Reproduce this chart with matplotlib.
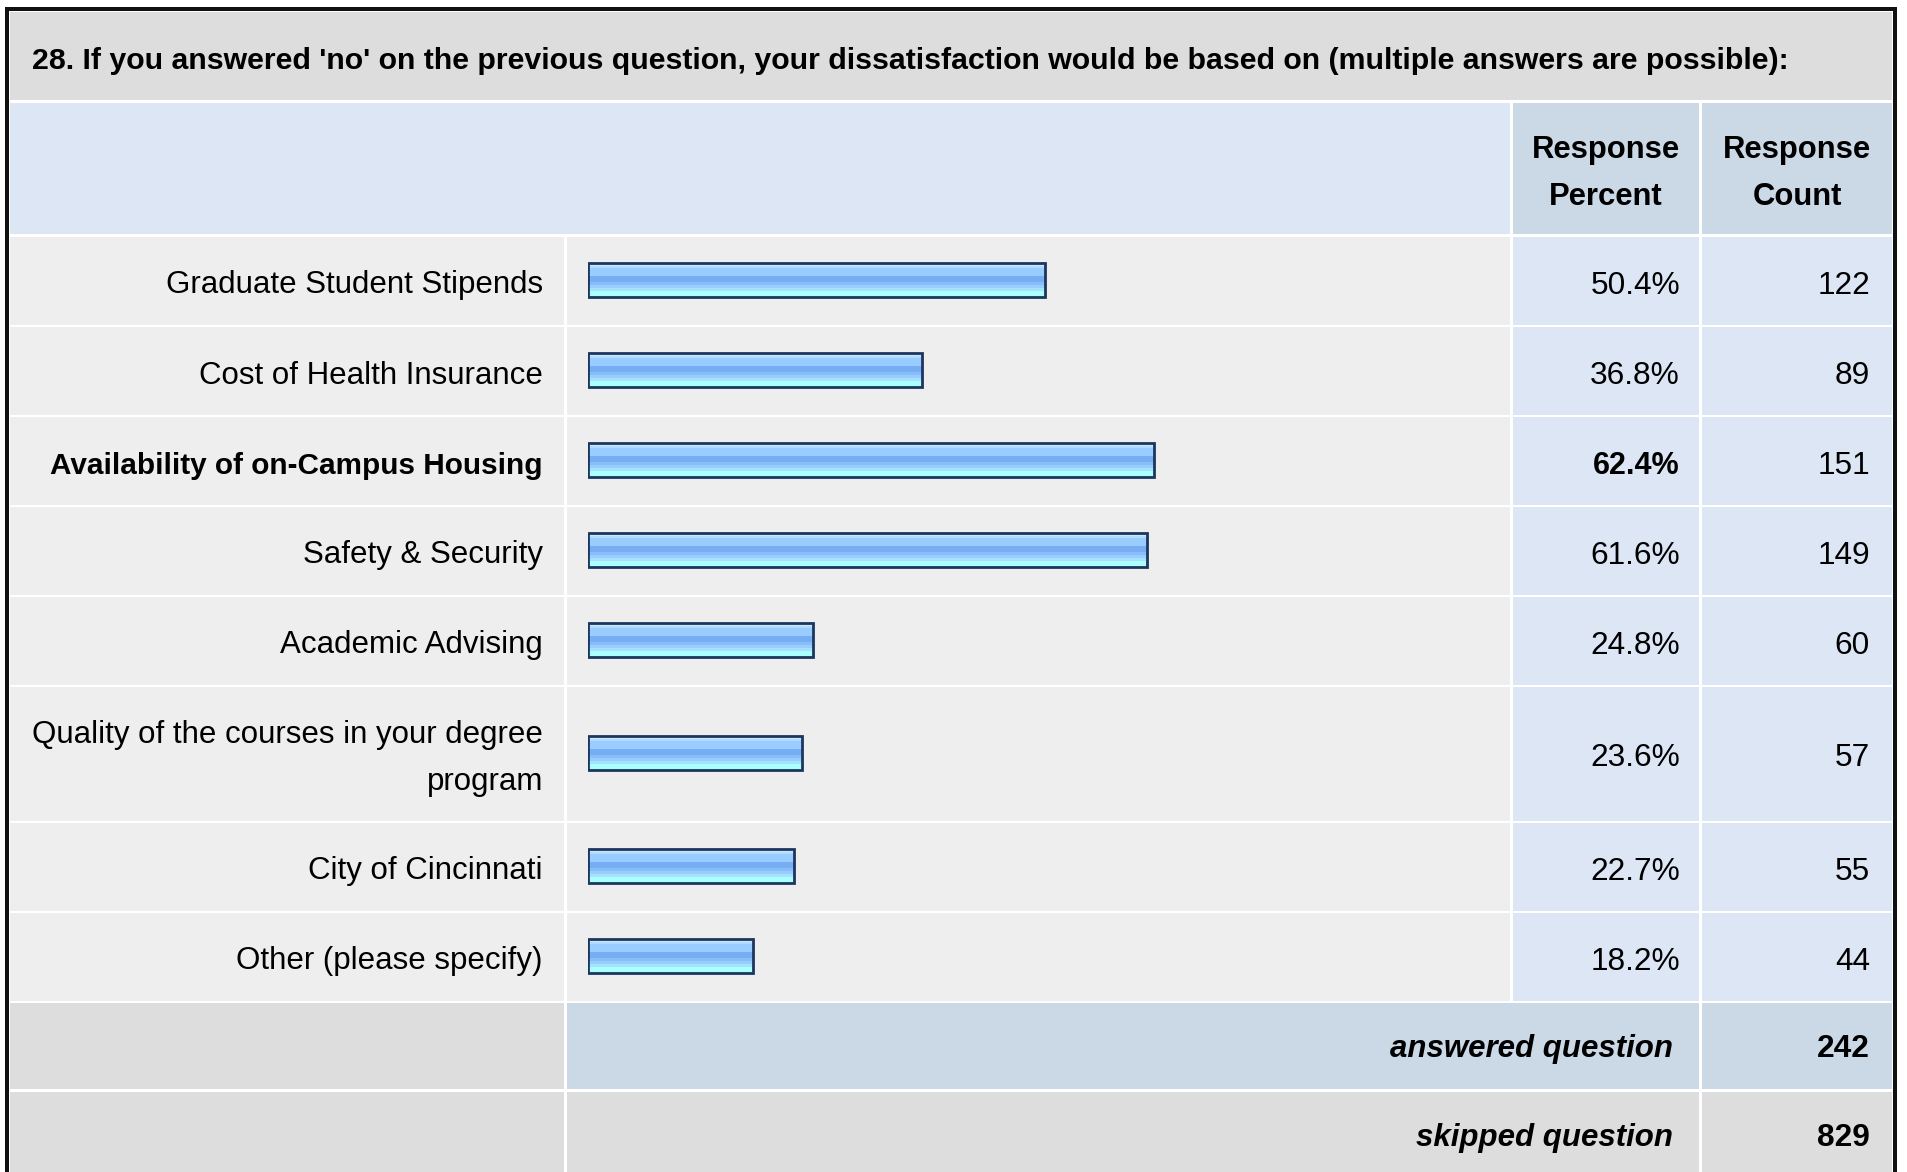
import matplotlib
matplotlib.use("Agg")
import matplotlib.pyplot as plt
from matplotlib.patches import Rectangle

plt.rcParams['font.family'] = ['Liberation Sans', 'DejaVu Sans']

# ---------------- data ----------------
title = ("28. If you answered 'no' on the previous question, your dissatisfaction "
         "would be based on (multiple answers are possible):")
categories = [
    "Graduate Student Stipends",
    "Cost of Health Insurance",
    "Availability of on-Campus Housing",
    "Safety & Security",
    "Academic Advising",
    "Quality of the courses in your degree\nprogram",
    "City of Cincinnati",
    "Other (please specify)",
]
percents = [50.4, 36.8, 62.4, 61.6, 24.8, 23.6, 22.7, 18.2]
counts = [122, 89, 151, 149, 60, 57, 55, 44]
header_labels = ["Response\nPercent", "Response\nCount"]
answered_label = "answered question"
answered_count = 242
skipped_label = "skipped question"
skipped_count = 829

# ---------------- layout (pixels) ----------------
W, H = 1907, 1172
fig = plt.figure(figsize=(W / 100, H / 100), dpi=100)
bg = fig.add_axes([0, 0, 1, 1])
bg.set_xlim(0, W)
bg.set_ylim(H, 0)
bg.axis('off')

C_TITLE = '#DDDDDD'
C_ROW = '#EEEEEE'
C_LBLUE = '#DCE6F4'
C_DBLUE = '#CBD8E6'
C_GRAY = '#DDDDDD'
TXT = '#000000'
FS_LABEL = 22.5
FS_LABEL_B = 21.4
FS_VAL = 22.8
FS_VAL_B = 22.0
FS_HEAD = 22.3
FS_TITLE = 21.8
LS = 1.7

def cell(x0, x1, y0, y1, c):
    bg.add_patch(Rectangle((x0, y0), x1 - x0, y1 - y0, facecolor=c, edgecolor='none', zorder=1))

# outer black border
bg.add_patch(Rectangle((5, 7), 1892 - 5 + 5, H + 20, facecolor='#111111', edgecolor='none', zorder=0))
bg.add_patch(Rectangle((9, 11), 1893 - 9, H + 20, facecolor='white', edgecolor='none', zorder=0.5))

XL0, XL1 = 10, 564        # label column
XB0, XB1 = 567, 1510      # bar column
XP0, XP1 = 1513, 1699     # percent column
XC0, XC1 = 1702, 1892     # count column

# title row
cell(10, 1892, 12, 100, C_TITLE)
bg.text(32, 61, title, fontsize=FS_TITLE, fontweight='bold', va='center', ha='left', color=TXT, zorder=3)

# header row
cell(XL0, XB1, 103, 234, C_LBLUE)
cell(XP0, XP1, 103, 234, C_DBLUE)
cell(XC0, XC1, 103, 234, C_DBLUE)
bg.text((XP0 + XP1) / 2, 173.5, header_labels[0], fontsize=FS_HEAD, fontweight='bold', ha='center',
        va='center', linespacing=LS, color=TXT, zorder=3)
bg.text((XC0 + XC1) / 2, 173.5, header_labels[1], fontsize=FS_HEAD, fontweight='bold', ha='center',
        va='center', linespacing=LS, color=TXT, zorder=3)

# data rows
bounds = [235, 325, 415, 505, 595, 685, 821, 911, 1001]
centers = [(bounds[i] + bounds[i + 1]) / 2 + 1 for i in range(len(categories))]
imax = percents.index(max(percents))
for i, cat in enumerate(categories):
    y0, y1 = bounds[i] + 2, bounds[i + 1]
    cell(XL0, XL1, y0, y1, C_ROW)
    cell(XB0, XB1, y0, y1, C_ROW)
    cell(XP0, XP1, y0, y1, C_LBLUE)
    cell(XC0, XC1, y0, y1, C_LBLUE)
    is_max = (i == imax)
    bold = 'bold' if is_max else 'normal'
    yc = centers[i] + 4.5
    bg.text(543, yc, cat, fontsize=FS_LABEL_B if is_max else FS_LABEL, fontweight=bold,
            ha='right', va='center', linespacing=LS, color=TXT, zorder=3)
    bg.text(1680, yc, f"{percents[i]:.1f}%", fontsize=FS_VAL_B if is_max else FS_VAL,
            fontweight=bold, ha='right', va='center', color=TXT, zorder=3)
    bg.text(1870, yc, f"{counts[i]}", fontsize=FS_VAL, ha='right', va='center',
            color=TXT, zorder=3)

# footer rows
cell(XL0, XL1, 1003, 1089, C_GRAY)
cell(XB0, XP1, 1003, 1089, C_DBLUE)
cell(XC0, XC1, 1003, 1089, C_DBLUE)
cell(XL0, XL1, 1092, H + 5, C_GRAY)
cell(XB0, XP1, 1092, H + 5, C_GRAY)
cell(XC0, XC1, 1092, H + 5, C_GRAY)
bg.text(1673, 1049, answered_label, fontsize=FS_LABEL, fontweight='bold', style='italic',
        ha='right', va='center', color=TXT, zorder=3)
bg.text(1870, 1049, f"{answered_count}", fontsize=FS_VAL, fontweight='bold',
        ha='right', va='center', color=TXT, zorder=3)
bg.text(1673, 1138, skipped_label, fontsize=FS_LABEL, fontweight='bold', style='italic',
        ha='right', va='center', color=TXT, zorder=3)
bg.text(1870, 1138, f"{skipped_count}", fontsize=FS_VAL, fontweight='bold',
        ha='right', va='center', color=TXT, zorder=3)

# ---------------- bars ----------------
BX0, BX1 = 588, 1495
bax = fig.add_axes([BX0 / W, (H - bounds[-1]) / H, (BX1 - BX0) / W, (bounds[-1] - bounds[0]) / H])
bax.set_xlim(0, 100)
bax.set_ylim(bounds[-1], bounds[0])
bax.axis('off')
bax.patch.set_alpha(0)

bar_h = 34
stripes = [  # (fraction start, fraction end, color) from top to bottom
    (0.000, 0.090, '#CCE8FF'),
    (0.090, 0.160, '#B2DAFF'),
    (0.160, 0.400, '#99CCFF'),
    (0.400, 0.575, '#77AEF3'),
    (0.575, 0.660, '#88BEF8'),
    (0.660, 0.745, '#99CCFF'),
    (0.745, 0.835, '#A6E2FF'),
    (0.835, 1.000, '#AAFFFF'),
]
yb = [c - 1 for c in centers]
for f0, f1, col in stripes:
    h = (f1 - f0) * bar_h
    ys = [y - bar_h / 2 + (f0 + f1) / 2 * bar_h for y in yb]
    bax.barh(ys, percents, height=h + 0.3, left=0, color=col, edgecolor='none', zorder=2)
bax.barh(yb, percents, height=bar_h, left=0, facecolor='none', edgecolor='#1B365F',
         linewidth=2.0, zorder=3)

fig.savefig('out.png', dpi=100)
